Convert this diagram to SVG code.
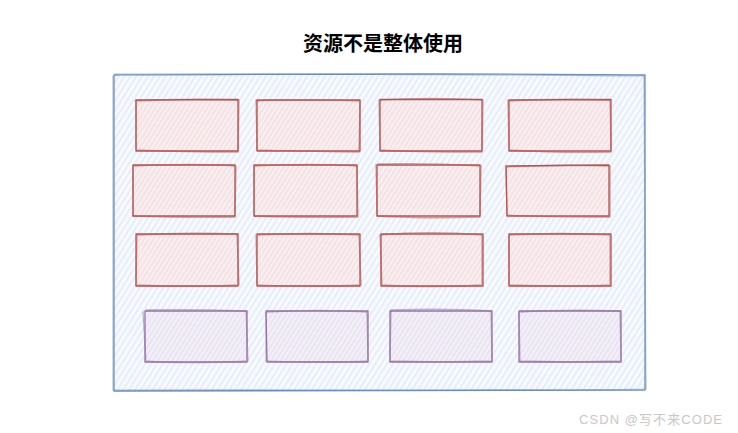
<svg xmlns="http://www.w3.org/2000/svg" width="738" height="433" viewBox="0 0 738 433">
<defs>
<pattern id="hb" width="5" height="5" patternUnits="userSpaceOnUse" patternTransform="rotate(32)"><rect width="5" height="5" fill="#f8fafe"/><line x1="1" y1="0" x2="1" y2="5" stroke="#dae8fc" stroke-width="1.3"/></pattern>
<pattern id="hr" width="4" height="4" patternUnits="userSpaceOnUse" patternTransform="rotate(32)"><rect width="4" height="4" fill="#f6f1f4"/><line x1="1" y1="0" x2="1" y2="4" stroke="#f8d9d8" stroke-width="1.3"/></pattern>
<pattern id="hp" width="4" height="4" patternUnits="userSpaceOnUse" patternTransform="rotate(32)"><rect width="4" height="4" fill="#f3f1f8"/><line x1="1" y1="0" x2="1" y2="4" stroke="#e6ddee" stroke-width="1.3"/></pattern>
</defs>
<style>
.t{font-family:"Noto Sans CJK SC","Liberation Sans",sans-serif;font-weight:bold;font-size:20px;fill:#000}
.w{font-family:"Liberation Sans","Noto Sans CJK SC",sans-serif;font-size:13px;fill:#c8c8c8}
.s{fill:none;stroke-linejoin:round;stroke-linecap:round}
.r .s{stroke:#b85450;stroke-width:1.3}
.p .s{stroke:#9673a6;stroke-width:1.3}
.r .f{fill:url(#hr)}
.p .f{fill:url(#hp)}
.s2{opacity:0.55}
</style>
<text class="t" x="383" y="51" text-anchor="middle">资源不是整体使用</text>

<g id="container">
<path d="M114,75 L645,75 L645,390 L114,391 Z" fill="url(#hb)"/>
<path class="s" d="M114,75 C300,74 480,73 645,75 L645,390 C460,391 300,390 114,391 L114,75" stroke="#6c8ebf" stroke-width="1.3"/>
<path class="s s2" d="M115,74 C300,73 500,75 644,76 L646,389 C480,392 300,389 113,390 L113,76" stroke="#6c8ebf" stroke-width="1.2"/>
</g>

<g id="r1c1" class="r"><rect class="f" x="136" y="100" width="102" height="51"/><path class="s" d="M136,100 L238,99.5 L238,151 L136,151 Z"/><path class="s s2" d="M135,101 C170,99 210,99 239,100 L238,152 C200,152 160,151 136,150 L136,100"/></g>
<g id="r1c2" class="r"><rect class="f" x="257" y="100" width="103" height="51"/><path class="s" d="M257,100 L360,100 L360,151 L257,151 Z"/><path class="s s2" d="M256,101 C290,99 330,100 360,101 L359,152 C320,152 290,151 257,150 L256,100"/></g>
<g id="r1c3" class="r"><rect class="f" x="380" y="100" width="102" height="51"/><path class="s" d="M380,99.5 L482,99.5 L482,151 L380,151 Z"/><path class="s s2" d="M379,100 C410,98 450,98 483,100 L482,152 C450,152 410,152 380,150 L379,100"/></g>
<g id="r1c4" class="r"><rect class="f" x="509" y="100" width="102" height="51"/><path class="s" d="M509,100 L611,99.5 L611,151 L509,151 Z"/><path class="s s2" d="M508,101 C540,99 580,99 610,100 L611,152 C580,153 540,152 509,150 L508,100"/></g>

<g id="r2c1" class="r"><rect class="f" x="133" y="165" width="102" height="52"/><path class="s" d="M133,165 L235,165 L235,216 L133,216 Z"/><path class="s s2" d="M134,166 C170,164 210,164 236,166 L235,217 C200,218 160,217 133,216 L133,166"/></g>
<g id="r2c2" class="r"><rect class="f" x="254" y="165" width="103" height="52"/><path class="s" d="M254,165 L357,165 L357,216 L254,216 Z"/><path class="s s2" d="M255,166 C290,164 330,164 357,166 L358,217 C320,218 280,217 254,216 L254,166"/></g>
<g id="r2c3" class="r"><rect class="f" x="377" y="165" width="103" height="52"/><path class="s" d="M377,165 L480,165 L480,216 L377,216 Z"/><path class="s s2" d="M378,164 C410,163 450,164 481,166 L480,217 C450,218 410,218 377,216 L376,165"/></g>
<g id="r2c4" class="r"><rect class="f" x="506" y="166" width="104" height="51"/><path class="s" d="M506,166 L609,165 L609,216 L507,216 Z"/><path class="s s2" d="M507,167 C540,165 580,165 610,166 L610,217 C580,217 540,217 507,215 L506,167"/></g>

<g id="r3c1" class="r"><rect class="f" x="136" y="234" width="102" height="52"/><path class="s" d="M136,234 L238,234 L238,286 L136,286 Z"/><path class="s s2" d="M137,235 C170,233 210,233 237,234 L239,285 C200,287 160,286 136,285 L137,235"/></g>
<g id="r3c2" class="r"><rect class="f" x="257" y="234" width="103" height="52"/><path class="s" d="M257,234 L360,234 L360,286 L257,286 Z"/><path class="s s2" d="M258,235 C290,233 330,233 359,235 L361,285 C320,287 290,286 257,285 L256,235"/></g>
<g id="r3c3" class="r"><rect class="f" x="380" y="234" width="103" height="52"/><path class="s" d="M381,234 L483,234 L483,286 L381,286 Z"/><path class="s s2" d="M380,235 C410,232 450,232 482,235 L482,285 C450,287 410,287 382,285 L380,235"/></g>
<g id="r3c4" class="r"><rect class="f" x="509" y="234" width="102" height="52"/><path class="s" d="M509,234 L611,234 L611,286 L509,286 Z"/><path class="s s2" d="M510,235 C540,233 580,233 610,235 L610,285 C580,287 540,286 509,285 L509,235"/></g>

<g id="p1" class="p"><rect class="f" x="145" y="311" width="102" height="51"/><path class="s" d="M145,311 L247,311 L247,362 L145,362 Z"/><path class="s s2" d="M146,310 C180,309 220,310 246,311 L248,361 C210,363 170,363 146,361 L143,312"/></g>
<g id="p2" class="p"><rect class="f" x="266" y="311" width="102" height="51"/><path class="s" d="M266,311 L368,311 L368,362 L267,362 Z"/><path class="s s2" d="M267,312 C300,310 340,310 367,312 L368,361 C330,363 300,362 266,361 L266,312"/></g>
<g id="p3" class="p"><rect class="f" x="390" y="311" width="102" height="51"/><path class="s" d="M390,311 L492,311 L492,362 L390,362 Z"/><path class="s s2" d="M391,310 C420,309 460,309 491,311 L492,361 C460,362 420,362 390,361 L391,311"/></g>
<g id="p4" class="p"><rect class="f" x="519" y="311" width="102" height="51"/><path class="s" d="M519,311 L621,311 L621,362 L519,362 Z"/><path class="s s2" d="M520,312 C550,310 590,310 620,311 L621,361 C590,362 550,362 520,361 L519,312"/></g>

<g id="connectors"></g>

<text class="w" x="579" y="424" textLength="143" lengthAdjust="spacing">CSDN @写不来CODE</text>
</svg>
